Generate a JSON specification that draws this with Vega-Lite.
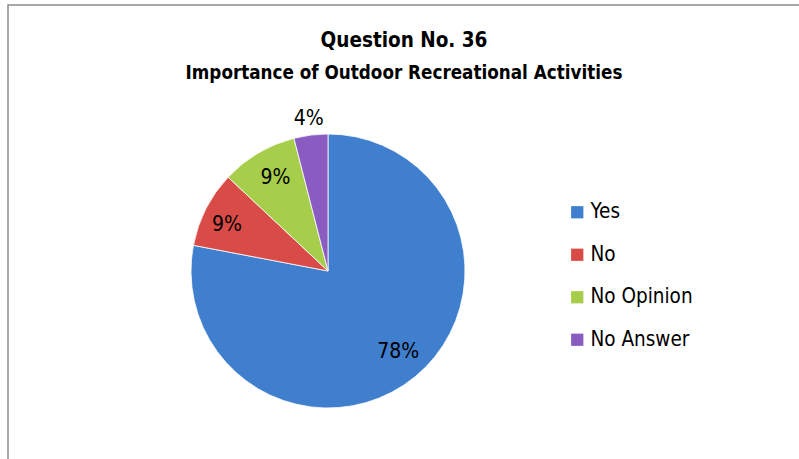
{
  "$schema": "https://vega.github.io/schema/vega-lite/v6.json",
  "autosize": "none",
  "width": 796,
  "height": 459,
  "padding": {"left": 8, "top": 5, "right": -5, "bottom": -5},
  "background": "white",
  "view": {"stroke": "#8c8c8c", "strokeWidth": 1.5, "fill": "white"},
  "title": {
    "text": "Question No. 36",
    "subtitle": "Importance of Outdoor Recreational Activities",
    "orient": "top",
    "anchor": "middle",
    "frame": "group",
    "offset": -78,
    "dx": -2,
    "font": "DejaVu Sans Condensed, sans-serif",
    "fontSize": 20.5,
    "fontWeight": "bold",
    "color": "#000000",
    "subtitleFont": "DejaVu Sans Condensed, sans-serif",
    "subtitleFontSize": 18.7,
    "subtitleFontWeight": "bold",
    "subtitleColor": "#000000",
    "subtitlePadding": 13
  },
  "data": {
    "values": [
      {"answer": "Yes", "pct": 78, "label": "78%", "order": 1},
      {"answer": "No", "pct": 9, "label": "9%", "order": 2},
      {"answer": "No Opinion", "pct": 9, "label": "9%", "order": 3},
      {"answer": "No Answer", "pct": 4, "label": "4%", "order": 4}
    ]
  },
  "encoding": {
    "theta": {"field": "pct", "type": "quantitative", "stack": true},
    "order": {"field": "order", "type": "quantitative"},
    "color": {
      "field": "answer",
      "type": "nominal",
      "sort": ["Yes", "No", "No Opinion", "No Answer"],
      "scale": {
        "domain": ["Yes", "No", "No Opinion", "No Answer"],
        "range": ["#3F7FCE", "#D84B47", "#A6CE4A", "#8A5CC2"]
      },
      "legend": {
        "title": null,
        "orient": "none",
        "legendX": 559,
        "legendY": 197,
        "symbolType": "square",
        "symbolSize": 150,
        "symbolStrokeWidth": 0,
        "labelFont": "DejaVu Sans Condensed, sans-serif",
        "labelFontSize": 20.5,
        "labelColor": "#000000",
        "labelOffset": 3,
        "rowPadding": 21.5
      }
    }
  },
  "layer": [
    {
      "mark": {"type": "arc", "outerRadius": 137, "x": 320, "y": 266, "stroke": "#ffffff", "strokeWidth": 0.8}
    },
    {
      "mark": {
        "type": "text",
        "x": 320,
        "y": 266,
        "radius": 107,
        "dx": 2,
        "dy": -1,
        "font": "DejaVu Sans Condensed, sans-serif",
        "fontSize": 21,
        "fill": "#000000"
      },
      "encoding": {
        "text": {
          "condition": {"test": "datum.answer === 'Yes' || datum.answer === 'No Opinion'", "field": "label"},
          "value": ""
        },
        "color": {"value": "#000000"}
      }
    },
    {
      "mark": {
        "type": "text",
        "x": 320,
        "y": 266,
        "radius": 110,
        "dx": -3,
        "dy": 4,
        "font": "DejaVu Sans Condensed, sans-serif",
        "fontSize": 21,
        "fill": "#000000"
      },
      "encoding": {
        "text": {
          "condition": {"test": "datum.answer === 'No'", "field": "label"},
          "value": ""
        },
        "color": {"value": "#000000"}
      }
    },
    {
      "mark": {
        "type": "text",
        "x": 320,
        "y": 266,
        "radius": 153,
        "font": "DejaVu Sans Condensed, sans-serif",
        "fontSize": 21,
        "fill": "#000000"
      },
      "encoding": {
        "text": {
          "condition": {"test": "datum.answer === 'No Answer'", "field": "label"},
          "value": ""
        },
        "color": {"value": "#000000"}
      }
    }
  ]
}
